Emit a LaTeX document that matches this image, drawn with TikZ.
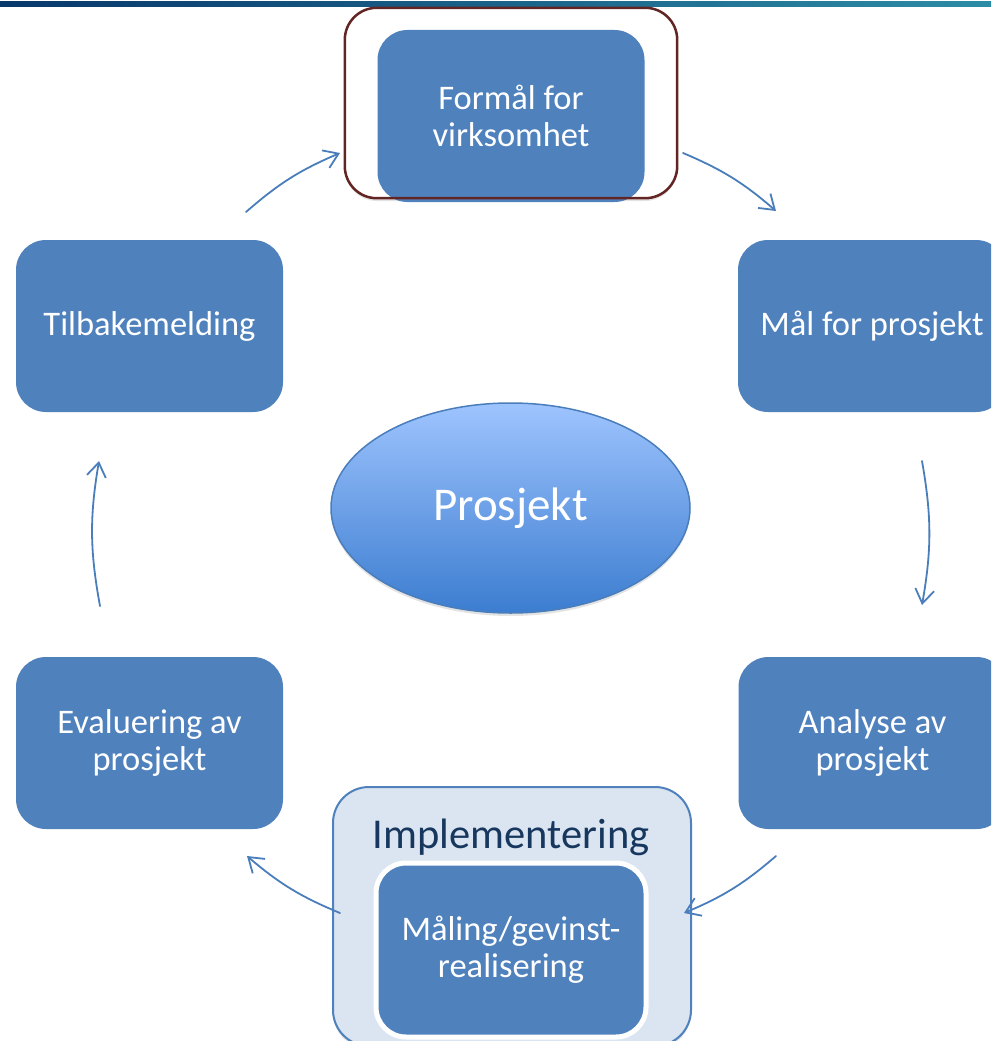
\documentclass[tikz,border=0pt]{standalone}
\usepackage{fontspec}
\setmainfont{Carlito}
\usetikzlibrary{arrows.meta,shadows,shapes.geometric}
\definecolor{boxblue}{RGB}{79,129,189}
\definecolor{arrowblue}{RGB}{74,126,187}
\definecolor{framered}{RGB}{99,37,35}
\definecolor{implfill}{RGB}{219,229,241}
\definecolor{impltext}{RGB}{23,55,94}
\definecolor{elltop}{RGB}{158,196,254}
\definecolor{ellbot}{RGB}{60,125,208}
\definecolor{ellline}{RGB}{74,126,187}
\definecolor{barL}{RGB}{8,56,108}
\definecolor{barR}{RGB}{44,140,166}
\begin{document}
\begin{tikzpicture}[x=1pt,y=-1pt,
  stage/.style={rectangle, rounded corners=30pt, fill=boxblue, minimum width=267pt,
    minimum height=172pt, text=white, align=center,
    font=\fontsize{34.5}{37}\selectfont, inner sep=0pt},
  cyc/.style={draw=arrowblue, line width=1.8pt, line cap=round,
    -{Straight Barb[length=14pt,width=19pt]}},
  softshadow/.style={drop shadow={opacity=0.22, shadow xshift=0pt, shadow yshift=-3pt}}
]
\useasboundingbox (0,0) rectangle (991,1041);
\clip (0,0) rectangle (991,1041);
\fill[white] (0,0) rectangle (991,1041);
\shade[left color=barL, right color=barR] (0,1.5) rectangle (991,7);

% top node with frame
\node[rectangle, rounded corners=32pt, fill=white, minimum width=332pt, minimum height=190pt,
  inner sep=0pt, softshadow] (frame) at (511,103) {};
\node[stage] (formal) at (511,116) {Formål for\\virksomhet};
\draw[framered, line width=2.5pt, rounded corners=32pt] (frame.north west) rectangle (frame.south east);

% side nodes
\node[stage] (tilbake) at (149.5,326) {Tilbakemelding};
\node[stage, minimum width=268pt] (maal) at (872,326) {Mål for prosjekt};
\node[stage] (eval) at (149.5,743) {Evaluering av\\prosjekt};
\node[stage, minimum width=268pt] (analyse) at (872.5,743) {Analyse av\\prosjekt};

% implementering group
\node[rectangle, rounded corners=36pt, fill=implfill, draw=boxblue, line width=2pt,
  minimum width=358pt, minimum height=259pt, inner sep=0pt, softshadow] (impl) at (512,916.5) {};
\node[text=impltext, font=\fontsize{42.5}{48}\selectfont, inner sep=0pt] (impltext) at (511,837) {Implementering};
\node[stage, draw=white, line width=5pt, minimum width=270pt, minimum height=174pt] (maaling) at (511,950)
  {Måling/gevinst-\\realisering};

% center ellipse
\node[ellipse, shading=axis, top color=elltop, bottom color=ellbot, draw=ellline, line width=1.5pt,
  minimum width=359pt, minimum height=210pt, inner sep=0pt, text=white,
  font=\fontsize{47}{52}\selectfont, softshadow] (prosjekt) at (510.5,508) {\raisebox{-3pt}{Prosjekt}};

% arrows
\coordinate (a1s) at (246,212);  \coordinate (a1e) at (340,153);
\coordinate (a2s) at (683,153);  \coordinate (a2e) at (776,211);
\coordinate (a3s) at (922,461);  \coordinate (a3e) at (922,605);
\coordinate (a4s) at (776,856);  \coordinate (a4e) at (684,913);
\coordinate (a5s) at (340,913);  \coordinate (a5e) at (247,856);
\coordinate (a6s) at (100,606);  \coordinate (a6e) at (99,461);
\draw[cyc] (a1s) to[bend left=9] (a1e);
\draw[cyc] (a2s) to[bend left=9] (a2e);
\draw[cyc] (a3s) to[bend left=10] (a3e);
\draw[cyc] (a4s) to[bend left=9] (a4e);
\draw[cyc] (a5s) to[bend left=9] (a5e);
\draw[cyc] (a6s) to[bend left=10] (a6e);
\end{tikzpicture}
\end{document}
